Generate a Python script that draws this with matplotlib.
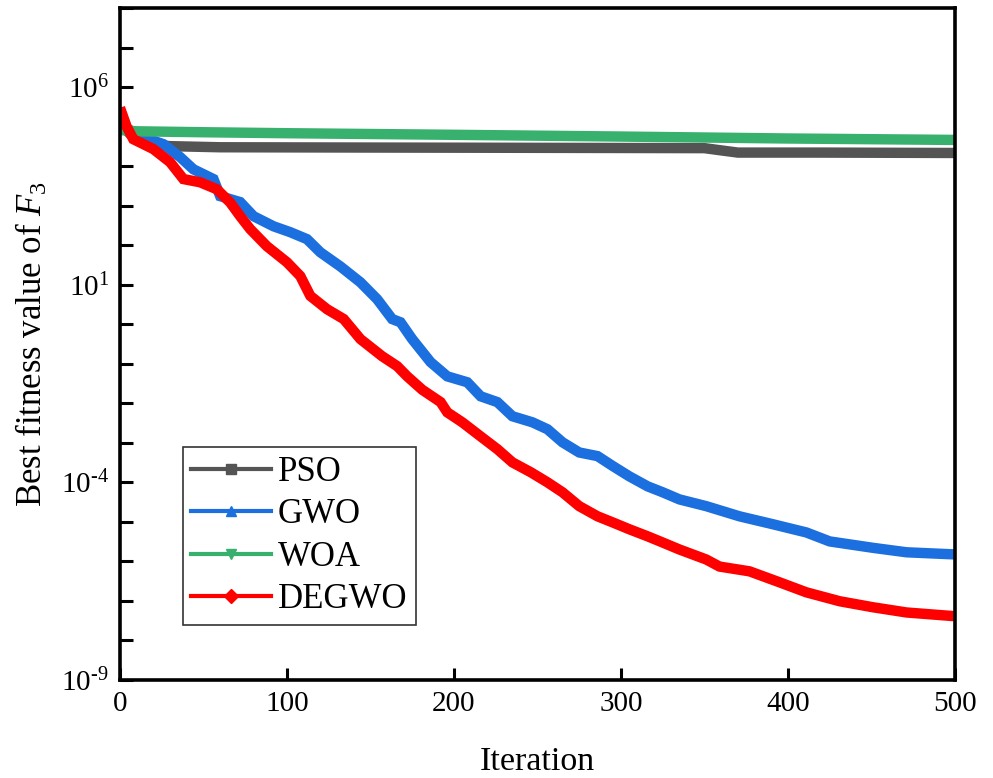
import math
import matplotlib
matplotlib.use("Agg")
import matplotlib.pyplot as plt
from matplotlib.lines import Line2D
from matplotlib.ticker import FixedLocator, FuncFormatter, NullLocator

plt.rcParams["font.family"] = ["Liberation Serif", "DejaVu Serif"]
plt.rcParams["mathtext.fontset"] = "custom"
plt.rcParams["mathtext.rm"] = "Liberation Serif"
plt.rcParams["mathtext.it"] = "Liberation Serif:italic"

# Convergence curves (iteration, best fitness)
pso_iter = [0, 7, 18, 30, 60, 150, 250, 350, 360, 370, 420, 500]
pso_val = [1.15e5, 6.0e4, 3.6e4, 3.2e4, 3.0e4, 2.95e4, 2.9e4, 2.85e4, 2.5e4, 2.2e4, 2.2e4, 2.15e4]

gwo_iter = [0, 12, 26, 36, 44, 56, 60, 72, 80, 92, 102, 112, 120, 132, 144, 154,
            163, 168, 175, 186, 196, 208, 216, 226, 235, 247, 256, 265, 275, 286,
            295, 305, 316, 325, 335, 351, 371, 391, 411, 425, 451, 471, 500]
gwo_val = [1.15e5, 5.7e4, 3.6e4, 1.7e4, 8.3e3, 4.7e3, 1.74e3, 1.23e3, 540, 300, 213,
           142, 66, 29, 11.5, 4.3, 1.35, 1.12, 0.42, 0.11, 0.048, 0.034, 0.015,
           0.0107, 4.7e-3, 3.3e-3, 2.2e-3, 1.03e-3, 5.7e-4, 4.6e-4, 2.6e-4, 1.42e-4,
           7.9e-5, 5.6e-5, 3.7e-5, 2.5e-5, 1.38e-5, 8.7e-6, 5.4e-6, 3.2e-6, 2.2e-6,
           1.7e-6, 1.5e-6]

woa_iter = [0, 10, 50, 100, 200, 300, 400, 500]
woa_val = [8.2e4, 7.6e4, 7.2e4, 6.8e4, 6.2e4, 5.6e4, 5.0e4, 4.6e4]

degwo_iter = [0, 4, 8, 20, 30, 38, 48, 58, 66, 72, 78, 88, 100, 108, 114, 124, 134,
              144, 157, 166, 172, 181, 192, 196, 205, 216, 226, 235, 246, 256, 265,
              275, 286, 295, 305, 316, 325, 335, 351, 359, 377, 395, 411, 431, 451,
              471, 500]
degwo_val = [3.0e5, 1.0e5, 4.8e4, 2.7e4, 1.26e4, 4.7e3, 3.9e3, 2.6e3, 1.2e3, 540,
             255, 94, 37, 16.5, 5.2, 2.4, 1.35, 0.42, 0.155, 0.087, 0.048, 0.022,
             0.0107, 5.9e-3, 3.3e-3, 1.45e-3, 6.9e-4, 3.2e-4, 1.8e-4, 1.0e-4, 5.6e-5,
             2.5e-5, 1.38e-5, 9.7e-6, 6.5e-6, 4.3e-6, 3.0e-6, 2.0e-6, 1.12e-6, 7.4e-7,
             5.6e-7, 2.95e-7, 1.65e-7, 9.8e-8, 6.9e-8, 5.1e-8, 4.1e-8]

names = ["PSO", "GWO", "WOA", "DEGWO"]
colors = ["#545454", "#1c6fde", "#38b06e", "#ff0000"]
markers = ["s", "^", "v", "D"]
series = [(pso_iter, pso_val), (gwo_iter, gwo_val), (woa_iter, woa_val), (degwo_iter, degwo_val)]

fig = plt.figure(figsize=(9.93, 7.78), dpi=100)
ax = fig.add_axes([0.1208, 0.126, 0.8409, 0.8637])

for (xs, ys), c in zip(series, colors):
    ax.plot(xs, ys, color=c, lw=7.5, solid_joinstyle="miter", solid_capstyle="butt")

ax.set_yscale("log")
ax.set_xlim(0, 500)
ax.set_ylim(1e-9, 1e8)

ax.set_xticks([0, 100, 200, 300, 400, 500])
ax.xaxis.set_minor_locator(NullLocator())
ax.yaxis.set_major_locator(FixedLocator([10.0 ** k for k in range(-9, 9)]))
ax.yaxis.set_minor_locator(NullLocator())


def decade_label(v, pos):
    k = int(round(math.log10(v)))
    if (k + 9) % 5 == 0:
        exp = str(k).replace("-", r"\text{-}")
        return r"$10^{%s}$" % exp
    return ""


ax.yaxis.set_major_formatter(FuncFormatter(decade_label))
ax.tick_params(axis="both", direction="in", length=9, width=2.2, labelsize=21,
               top=False, right=False, pad=8)
for s in ax.spines.values():
    s.set_linewidth(2.6)

ax.set_xlabel("Iteration", fontsize=24.5, labelpad=21)
ax.set_ylabel(r"Best fitness value of $F_{3}$", fontsize=25, labelpad=8)

handles = [Line2D([0], [0], color=c, lw=3, marker=m, markersize=7)
           for c, m in zip(colors, markers)]
leg = ax.legend(handles, names, loc="lower left", bbox_to_anchor=(0.075, 0.082),
                fontsize=25, fancybox=False, framealpha=1, edgecolor="#333333",
                handlelength=2.3, handletextpad=0.2, borderpad=0.25, labelspacing=0.27,
                borderaxespad=0)
leg.get_frame().set_linewidth(1.2)

fig.savefig("out.png", dpi=100)
